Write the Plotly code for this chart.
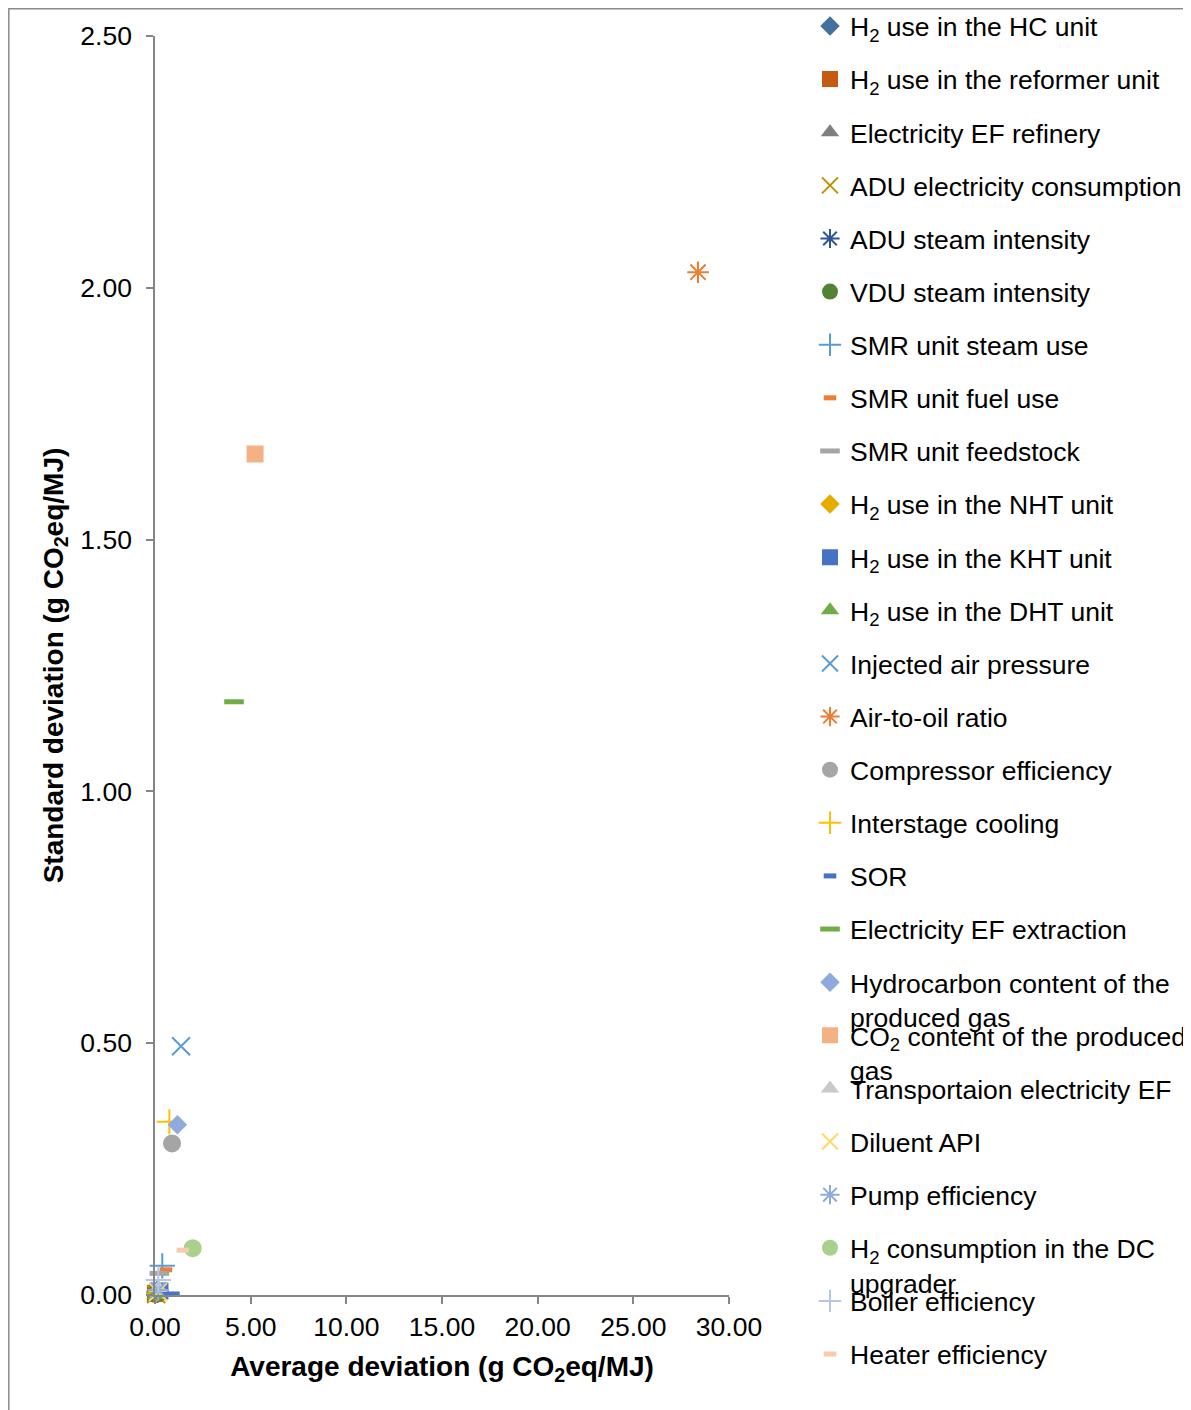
import plotly.graph_objects as go

# ---------------- data ----------------
series_names = [
    "H<sub>2</sub> use in the HC unit",
    "H<sub>2</sub> use in the reformer unit",
    "Electricity EF refinery",
    "ADU electricity consumption",
    "ADU steam intensity",
    "VDU steam intensity",
    "SMR unit steam use",
    "SMR unit fuel use",
    "SMR unit feedstock",
    "H<sub>2</sub> use in the NHT unit",
    "H<sub>2</sub> use in the KHT unit",
    "H<sub>2</sub> use in the DHT unit",
    "Injected air pressure",
    "Air-to-oil ratio",
    "Compressor efficiency",
    "Interstage cooling",
    "SOR",
    "Electricity EF extraction",
    "Hydrocarbon content of the<br>produced gas",
    "CO<sub>2</sub> content of the produced<br>gas",
    "Transportaion electricity EF",
    "Diluent API",
    "Pump efficiency",
    "H<sub>2</sub> consumption in the DC<br>upgrader",
    "Boiler efficiency",
    "Heater efficiency",
]
average_deviation = [0.10, 0.02, 0.08, 0.06, 0.12, 0.03, 0.38, 0.57, 0.23, 0.05,
                     0.26, 0.03, 1.36, 28.38, 0.89, 0.75, 0.96, 4.13, 1.17, 5.23,
                     0.18, 0.16, 0.17, 1.97, 0.17, 1.45]
standard_deviation = [0.008, 0.003, 0.004, 0.002, 0.006, 0.002, 0.058, 0.050, 0.043, 0.004,
                      0.008, 0.000, 0.494, 2.031, 0.301, 0.344, 0.002, 1.178, 0.338, 1.670,
                      0.014, 0.006, 0.010, 0.093, 0.030, 0.089]
x_ticks = [0, 5, 10, 15, 20, 25, 30]
y_ticks = [0, 0.5, 1.0, 1.5, 2.0, 2.5]

# ---------------- styles ----------------
colors = ["#41719C", "#C55A11", "#7F7F7F", "#BF9000", "#2F5597", "#548235",
          "#5B9BD5", "#ED7D31", "#A5A5A5", "#E6AC00", "#4472C4", "#70AD47",
          "#5B9BD5", "#ED7D31", "#A5A5A5", "#FFC000", "#4472C4", "#70AD47",
          "#8FAADC", "#F4B183", "#C9C9C9", "#FFD966", "#8FAADC", "#A9D18E",
          "#B4C7E7", "#F8CBAD"]
symbols = (["diamond", "square", "triangle-up", "x-thin-open", "asterisk-open", "circle",
            "cross-thin-open", "line-ew-open", "line-ew-open"] * 3)[:26]
sizes = {"diamond": 15, "square": 17, "triangle-up": 16, "x-thin-open": 18,
         "asterisk-open": 18, "circle": 18, "cross-thin-open": 18}
short_dash_items = (8, 17, 26)

# legend blocks (so that wrapped entries overlap the next one like the original)
legend_blocks = [("legend", 1, 10), ("legend2", 11, 19), ("legend3", 20, 20),
                 ("legend4", 21, 24), ("legend5", 25, 26)]


def legend_for(k):
    for name, a, b in legend_blocks:
        if a <= k <= b:
            return name


fig = go.Figure()
for i, name in enumerate(series_names):
    k = i + 1
    sym = symbols[i]
    if sym == "line-ew-open":
        size = 9 if k in short_dash_items else 14
        lw = 5
    elif sym.endswith("-open"):
        size = sizes[sym]
        lw = 2
    else:
        size = sizes[sym]
        lw = 0
    fig.add_trace(go.Scatter(
        x=[average_deviation[i]], y=[standard_deviation[i]],
        mode="markers", name=name,
        legend=legend_for(k), legendgroup="g%d" % i,
        cliponaxis=False,
        marker=dict(symbol=sym, size=size, color=colors[i],
                    line=dict(width=lw, color=colors[i])),
    ))

# ---------------- layout (page pixel targets; page body has an 8px margin) ----------------
OFF = 8
W, H = 1191 - OFF, 1410 - OFF
L, T, R, B = 155 - OFF, 36 - OFF, 729 - OFF, 1295 - OFF
PW, PH = R - L, B - T


def px_x(p):
    return (p - OFF - L) / PW


def px_y(p):
    return (B - (p - OFF)) / PH


font_family = "Liberation Sans, Arial, sans-serif"
LEG_FS = 26.5
item_h = LEG_FS * 1.3 + 3
first_item_offset = 5 + item_h / 2
item_step = 53.12
gap = item_step - item_h


def legend_cfg(first_k):
    center = 26 + item_step * (first_k - 1)
    return dict(
        x=px_x(810), xanchor="left",
        y=px_y(center - first_item_offset), yanchor="top",
        font=dict(family=font_family, size=LEG_FS, color="black"),
        bgcolor="rgba(0,0,0,0)", borderwidth=0,
        traceorder="grouped", tracegroupgap=gap, valign="top",
    )


axis_color = "#868686"
layout_legends = {name: legend_cfg(a) for name, a, b in legend_blocks}
fig.update_layout(
    width=W, height=H,
    margin=dict(l=L, r=W - R, t=T, b=H - B, autoexpand=False),
    paper_bgcolor="white", plot_bgcolor="white",
    font=dict(family=font_family, color="black"),
    showlegend=True,
    **layout_legends,
    xaxis=dict(
        range=[0, 30], tickvals=x_ticks, tickformat=".2f",
        showgrid=False, zeroline=False,
        showline=True, linecolor=axis_color, linewidth=1.5,
        ticks="outside", ticklen=7, tickwidth=1.5, tickcolor=axis_color,
        tickfont=dict(size=26.5, family=font_family, color="black"),
        title=dict(text="<b>Average deviation (g CO<sub>2</sub>eq/MJ)</b>",
                   font=dict(size=28, family=font_family, color="black"),
                   standoff=16),
    ),
    yaxis=dict(
        range=[0, 2.5], tickvals=y_ticks, tickformat=".2f",
        showgrid=False, zeroline=False,
        showline=True, linecolor=axis_color, linewidth=1.5,
        ticks="outside", ticklen=7, tickwidth=1.5, tickcolor=axis_color,
        ticklabelstandoff=9,
        tickfont=dict(size=26.5, family=font_family, color="black"),
        title=dict(text="<b>Standard deviation (g CO<sub>2</sub>eq/MJ)</b>",
                   font=dict(size=28, family=font_family, color="black"),
                   standoff=9),
    ),
    shapes=[dict(type="rect", xref="paper", yref="paper",
                 x0=px_x(8.8), x1=px_x(1240), y0=px_y(1460), y1=px_y(8.8),
                 line=dict(color="#8A8A8A", width=1.5), layer="below")],
)

fig.write_html("out.html")
